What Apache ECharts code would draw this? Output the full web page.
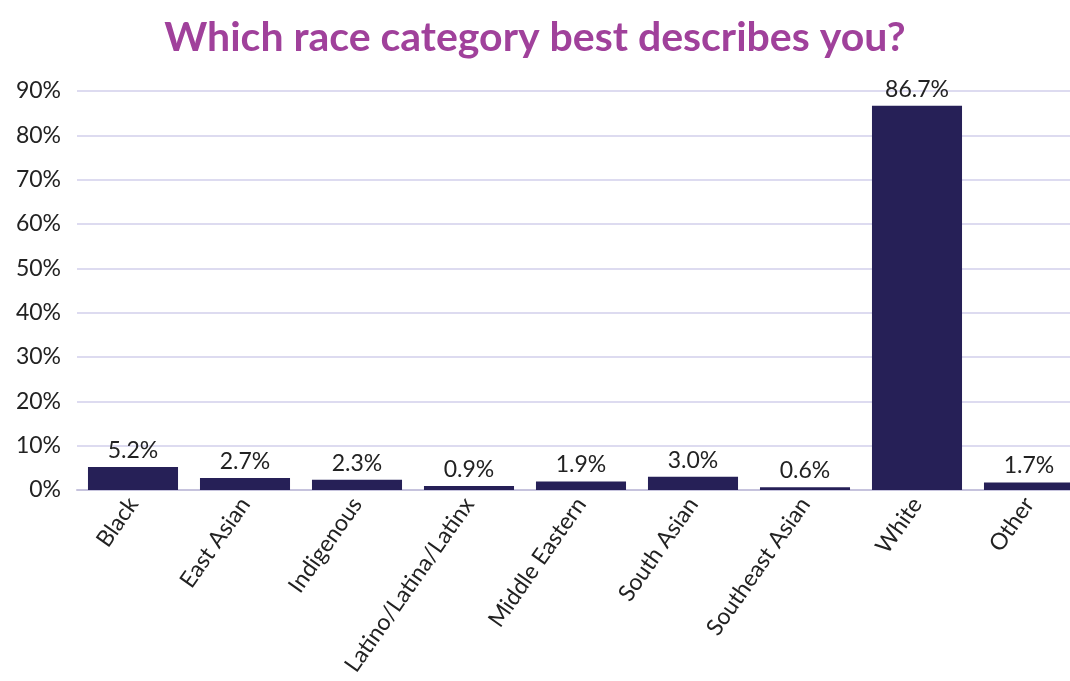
<!DOCTYPE html>
<html>
<head>
<meta charset="utf-8">
<script src="https://cdn.jsdelivr.net/npm/echarts@6/dist/echarts.min.js"></script>
<style>
  html, body { margin: 0; padding: 0; background: #fff; }
  #chart { width: 1070px; height: 681px; }
</style>
</head>
<body>
<div id="chart"></div>
<script>
const categories = ['Black', 'East Asian', 'Indigenous', 'Latino/Latina/Latinx', 'Middle Eastern', 'South Asian', 'Southeast Asian', 'White', 'Other']
const shares = [5.2, 2.7, 2.3, 0.9, 1.9, 3.0, 0.6, 86.7, 1.7]
const yTicks = [0, 10, 20, 30, 40, 50, 60, 70, 80, 90]

const chart = echarts.init(document.getElementById('chart'))
chart.setOption({
  animation: false,
  title: {
    text: 'Which race category best describes you?',
    left: 'center',
    top: 12,
    textStyle: {
      fontFamily: 'Lato',
      fontWeight: 'bold',
      fontSize: 41,
      color: '#A0419B'
    }
  },
  grid: {
    left: 77,
    width: 1008,
    top: 91,
    bottom: 191,
    containLabel: false,
    outerBoundsMode: 'none'
  },
  xAxis: {
    type: 'category',
    data: categories,
    axisTick: { show: false },
    axisLine: { lineStyle: { color: '#C6C3DD', width: 2 } },
    axisLabel: {
      rotate: 55,
      fontFamily: 'Lato',
      fontSize: 23,
      color: '#222',
      margin: 10,
      interval: 0
    }
  },
  yAxis: {
    type: 'value',
    min: yTicks[0],
    max: yTicks[yTicks.length - 1],
    interval: 10,
    axisLabel: {
      formatter: '{value}%',
      fontFamily: 'Lato',
      fontSize: 23,
      color: '#222',
      margin: 16
    },
    splitLine: { lineStyle: { color: '#DDDBF0', width: 2 } }
  },
  series: [{
    type: 'bar',
    data: shares,
    barCategoryGap: '19.6%',
    itemStyle: { color: '#262057' },
    label: {
      show: true,
      position: 'top',
      distance: 5,
      formatter: p => p.value.toFixed(1) + '%',
      fontFamily: 'Lato',
      fontSize: 23,
      color: '#222'
    }
  }]
})
</script>
</body>
</html>
